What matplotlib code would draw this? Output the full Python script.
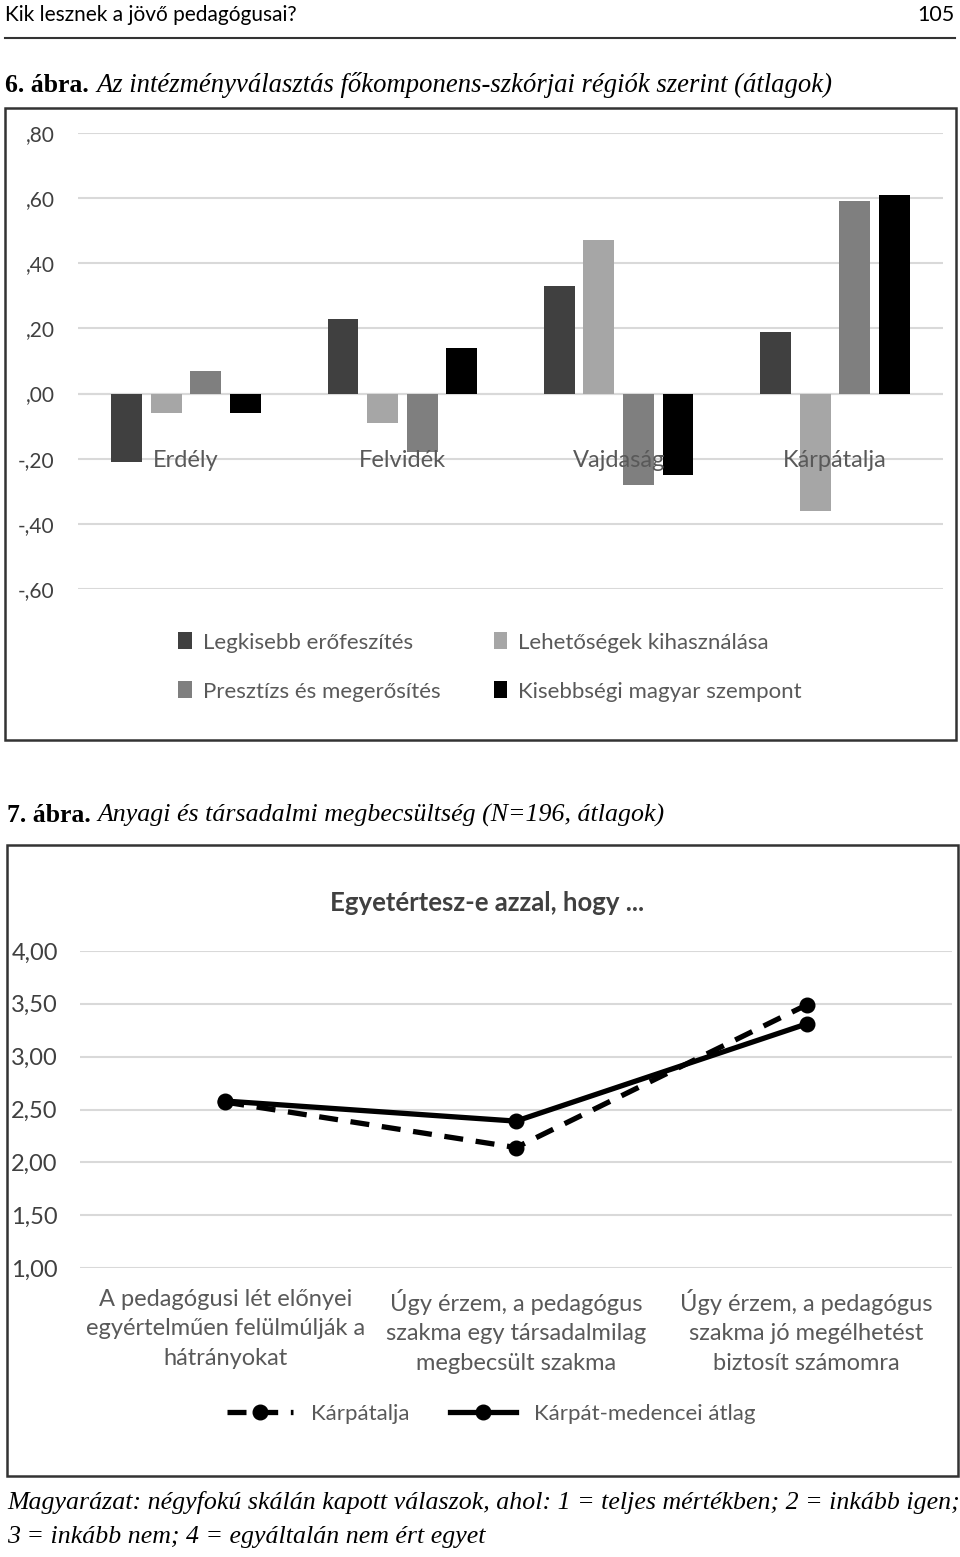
import matplotlib
matplotlib.use("Agg")
import matplotlib.pyplot as plt
from matplotlib.patches import Rectangle
from matplotlib.lines import Line2D
import numpy as np

# ---- data: 6. abra (bar chart) ----
regions = ['Erdély', 'Felvidék', 'Vajdaság', 'Kárpátalja']
series_names = ['Legkisebb erőfeszítés', 'Lehetőségek kihasználása',
                'Presztízs és megerősítés', 'Kisebbségi magyar szempont']
legkisebb = [-0.21, 0.23, 0.33, 0.19]
lehetosegek = [-0.06, -0.09, 0.47, -0.36]
presztizs = [0.07, -0.18, -0.28, 0.59]
kisebbsegi = [-0.06, 0.14, -0.25, 0.61]
bar_ticks = [-0.6, -0.4, -0.2, 0.0, 0.2, 0.4, 0.6, 0.8]
bar_ticklabels = ['-,60', '-,40', '-,20', ',00', ',20', ',40', ',60', ',80']

# ---- data: 7. abra (line chart) ----
statements = ['A pedagógusi lét előnyei\negyértelműen felülmúlják a\nhátrányokat',
              'Úgy érzem, a pedagógus\nszakma egy társadalmilag\nmegbecsült szakma',
              'Úgy érzem, a pedagógus\nszakma jó megélhetést\nbiztosít számomra']
karpatalja = [2.57, 2.14, 3.49]
atlag = [2.58, 2.39, 3.31]
line_ticks = [1.0, 1.5, 2.0, 2.5, 3.0, 3.5, 4.0]
line_ticklabels = ['1,00', '1,50', '2,00', '2,50', '3,00', '3,50', '4,00']

W, H = 960, 1557
SANS = ['Lato', 'DejaVu Sans']
SERIF = ['Liberation Serif', 'DejaVu Serif']
plt.rcParams['font.family'] = SANS

fig = plt.figure(figsize=(W / 100, H / 100), dpi=100)


def box(x0, y0, x1, y1):
    return [x0 / W, 1 - y1 / H, (x1 - x0) / W, (y1 - y0) / H]


def ftext(x, y, s, **kw):
    return fig.text(x / W, 1 - y / H, s, **kw)


def fit(t, width):
    # shrink/grow a text so it spans the given pixel width
    r = fig.canvas.get_renderer()
    w = t.get_window_extent(r).width
    t.set_fontsize(t.get_fontsize() * width / w)


# page header
ftext(5, 15, 'Kik lesznek a jövő pedagógusai?', fontsize=15, va='center')
ftext(955, 15, '105', fontsize=15.5, va='center', ha='right')
fig.add_artist(Line2D([5 / W, 955 / W], [1 - 38 / H] * 2, color='#333333', lw=1.5))

# captions
t = ftext(96, 85, 'Az intézményválasztás főkomponens-szkórjai régiók szerint (átlagok)',
          family=SERIF, style='italic', fontsize=16, va='center')
fit(t, 734)
b = ftext(5, 85, '6. ábra.', family=SERIF, weight='bold', fontsize=16, va='center')
fit(b, 84)
t = ftext(97, 815, 'Anyagi és társadalmi megbecsültség (N=196, átlagok)',
          family=SERIF, style='italic', fontsize=16, va='center')
fit(t, 567)
b = ftext(7, 815, '7. ábra.', family=SERIF, weight='bold', fontsize=16, va='center')
fit(b, 84)

# frames
for (x0, y0, x1, y1) in [(5, 108, 956, 740), (7, 845, 958, 1476)]:
    fig.add_artist(Rectangle((x0 / W, 1 - y1 / H), (x1 - x0) / W, (y1 - y0) / H,
                             transform=fig.transFigure, fill=False,
                             edgecolor='#333333', lw=1.8))

# ---- bar chart ----
ax1 = fig.add_axes(box(78, 133, 943, 589))
colors = ['#404040', '#a6a6a6', '#7f7f7f', '#000000']
values = [legkisebb, lehetosegek, presztizs, kisebbsegi]
x = np.arange(len(regions))
step, width = 0.183, 0.143
for i, (vals, c, name) in enumerate(zip(values, colors, series_names)):
    ax1.bar(x + (i - 1.5) * step, vals, width, color=c, label=name, zorder=3)
ax1.set_xlim(-0.5, 3.5)
ax1.set_ylim(-0.6, 0.8)
ax1.set_yticks(bar_ticks)
ax1.set_yticklabels(bar_ticklabels, fontsize=15, color='#404040')
ax1.tick_params(axis='y', length=0, pad=17)
ax1.set_xticks([])
for s in ax1.spines.values():
    s.set_visible(False)
ax1.grid(axis='y', color='#d9d9d9', lw=1.5, zorder=0)
ax1.axhline(0, color='#d9d9d9', lw=1.5, zorder=1)
for xi, name in zip(x, regions):
    ax1.text(xi, -0.205, name, ha='center', va='center', fontsize=17,
             color='#595959', zorder=4)
h, l = ax1.get_legend_handles_labels()
order = [0, 2, 1, 3]
fig.legend([h[i] for i in order], [l[i] for i in order], ncol=2,
           loc='center', bbox_to_anchor=(490 / W, 1 - 667 / H), frameon=False,
           fontsize=16, handlelength=0.6, handleheight=0.8, handletextpad=0.5,
           columnspacing=2.4, labelspacing=1.3, labelcolor='#595959')

# ---- line chart ----
ax2 = fig.add_axes(box(80, 951, 952, 1268))
xl = np.arange(len(statements))
ax2.plot(xl, karpatalja, color='black', lw=3.8, ls=(0, (3.6, 2.4)), marker='o',
         ms=10.5, label='Kárpátalja', zorder=3)
ax2.plot(xl, atlag, color='black', lw=3.8, marker='o', ms=10.5,
         label='Kárpát-medencei átlag', zorder=3)
ax2.set_xlim(-0.5, 2.5)
ax2.set_ylim(1.0, 4.0)
ax2.set_yticks(line_ticks)
ax2.set_yticklabels(line_ticklabels, fontsize=17, color='#404040')
ax2.tick_params(axis='y', length=0, pad=16)
ax2.set_xticks(xl)
ax2.set_xticklabels(statements, fontsize=17, color='#595959', linespacing=1.5)
ax2.tick_params(axis='x', length=0, pad=15)
for s in ax2.spines.values():
    s.set_visible(False)
ax2.grid(axis='y', color='#d9d9d9', lw=1.5, zorder=0)
ax2.grid(axis='x', visible=False)
ftext(487, 903, 'Egyetértesz-e azzal, hogy ...', fontsize=18.5, weight='bold',
      ha='center', va='center', color='#404040')
fig.legend(*ax2.get_legend_handles_labels(), ncol=2, loc='center',
           bbox_to_anchor=(491 / W, 1 - 1414 / H), frameon=False, fontsize=16,
           handlelength=3.0, handletextpad=0.8, columnspacing=1.8,
           labelcolor='#595959')

# footnote
t = ftext(7, 1503, 'Magyarázat: négyfokú skálán kapott válaszok, ahol: 1 = teljes mértékben; 2 = inkább igen;',
          family=SERIF, style='italic', fontsize=16, va='center')
fit(t, 948)
ftext(7, 1537, '3 = inkább nem; 4 = egyáltalán nem ért egyet', family=SERIF,
      style='italic', fontsize=t.get_fontsize(), va='center')

fig.savefig('out.png', dpi=100)
